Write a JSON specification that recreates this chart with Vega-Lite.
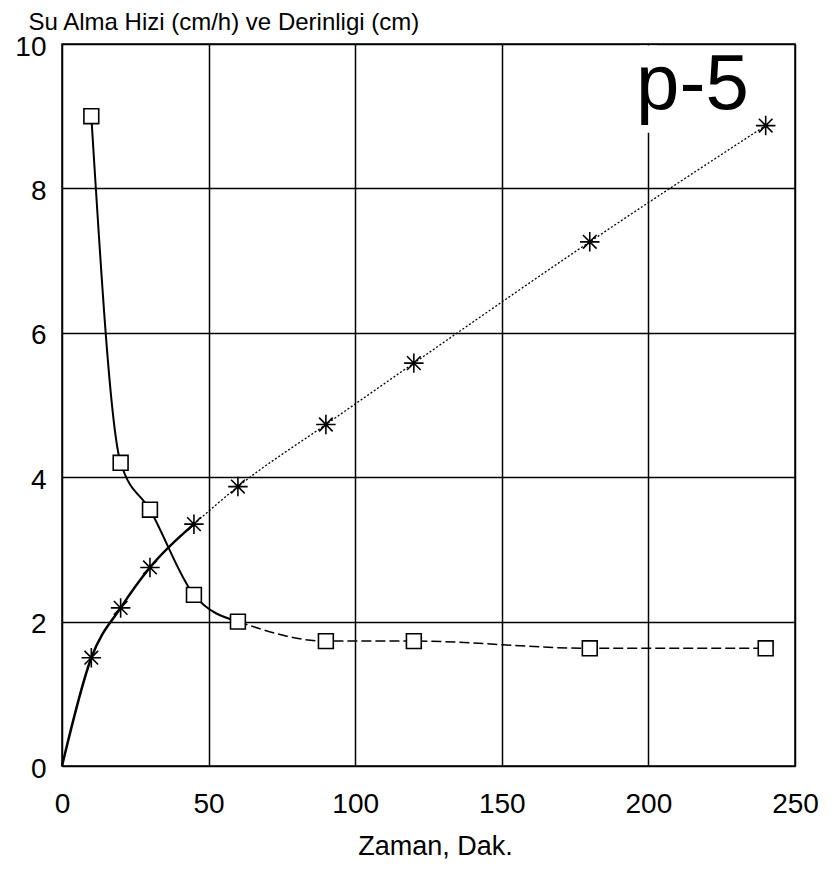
{
  "$schema": "https://vega.github.io/schema/vega-lite/v6.json",
  "width": 733,
  "height": 722,
  "autosize": "none",
  "padding": {"left": 62, "top": 44, "right": 40, "bottom": 104},
  "background": "white",
  "config": {
    "view": {"stroke": "black", "strokeWidth": 1.5},
    "axis": {
      "grid": true,
      "gridColor": "black",
      "gridOpacity": 1,
      "gridWidth": 1.5,
      "domain": false,
      "ticks": false,
      "labelFlush": false,
      "labelFont": "Liberation Sans",
      "labelFontSize": 28,
      "labelColor": "black",
      "titleColor": "black",
      "titleFontWeight": "normal",
      "format": "d"
    }
  },
  "datasets": {
    "depth": [
      {"t": 0, "d": 0},
      {"t": 10, "d": 1.5},
      {"t": 20, "d": 2.19},
      {"t": 30, "d": 2.75},
      {"t": 45, "d": 3.35},
      {"t": 60, "d": 3.87},
      {"t": 90, "d": 4.73},
      {"t": 120, "d": 5.58},
      {"t": 180, "d": 7.26},
      {"t": 240, "d": 8.87}
    ],
    "rate": [
      {"t": 10, "r": 9.0},
      {"t": 20, "r": 4.2},
      {"t": 30, "r": 3.55},
      {"t": 45, "r": 2.37},
      {"t": 60, "r": 2.0},
      {"t": 90, "r": 1.73},
      {"t": 120, "r": 1.73},
      {"t": 180, "r": 1.63},
      {"t": 240, "r": 1.63}
    ]
  },
  "layer": [
    {
      "data": {"name": "depth"},
      "mark": {"type": "line", "interpolate": "monotone", "color": "black", "strokeWidth": 2.5},
      "transform": [{"filter": "datum.t <= 45"}],
      "encoding": {
        "x": {
          "field": "t", "type": "quantitative",
          "scale": {"domain": [0, 250], "nice": false},
          "axis": {
            "values": [0, 50, 100, 150, 200, 250],
            "labelPadding": 24,
            "title": "Zaman, Dak.",
            "titleFont": "Liberation Sans",
            "titleFontSize": 27,
            "titleBaseline": "alphabetic",
            "titleY": 88,
            "titleX": 373
          }
        },
        "y": {
          "field": "d", "type": "quantitative",
          "scale": {"domain": [0, 10], "nice": false},
          "axis": {
            "values": [0, 2, 4, 6, 8, 10],
            "labelPadding": 16,
            "labelBaseline": "middle",
            "labelOffset": 3,
            "title": "Su Alma Hizi (cm/h) ve Derinligi (cm)",
            "titleFont": "Liberation Sans",
            "titleFontSize": 24,
            "titleAngle": 0,
            "titleAlign": "left",
            "titleBaseline": "alphabetic",
            "titleX": -34,
            "titleY": -15
          }
        }
      }
    },
    {
      "data": {"values": [{"k": 1}]},
      "mark": {"type": "rect", "color": "white"},
      "encoding": {
        "x": {"datum": 197},
        "x2": {"datum": 203},
        "y": {"datum": 8.77},
        "y2": {"datum": 9.98}
      }
    },
    {
      "data": {"name": "depth"},
      "mark": {"type": "line", "interpolate": "monotone", "color": "black", "strokeWidth": 1.3, "strokeDash": [2, 2]},
      "transform": [{"filter": "datum.t >= 45"}],
      "encoding": {
        "x": {"field": "t", "type": "quantitative"},
        "y": {"field": "d", "type": "quantitative"}
      }
    },
    {
      "data": {"name": "rate"},
      "mark": {"type": "line", "interpolate": "monotone", "color": "black", "strokeWidth": 2},
      "transform": [{"filter": "datum.t <= 60"}],
      "encoding": {
        "x": {"field": "t", "type": "quantitative"},
        "y": {"field": "r", "type": "quantitative"}
      }
    },
    {
      "data": {"name": "rate"},
      "mark": {"type": "line", "interpolate": "monotone", "color": "black", "strokeWidth": 1.5, "strokeDash": [10, 4]},
      "transform": [{"filter": "datum.t >= 60"}],
      "encoding": {
        "x": {"field": "t", "type": "quantitative"},
        "y": {"field": "r", "type": "quantitative"}
      }
    },
    {
      "data": {"name": "depth"},
      "mark": {
        "type": "point",
        "shape": "M-1,0L1,0M0,-1L0,1M-0.7,-0.7L0.7,0.7M-0.7,0.7L0.7,-0.7",
        "filled": false,
        "color": "black",
        "strokeWidth": 1.6,
        "size": 380,
        "opacity": 1
      },
      "transform": [{"filter": "datum.t > 0"}],
      "encoding": {
        "x": {"field": "t", "type": "quantitative"},
        "y": {"field": "d", "type": "quantitative"}
      }
    },
    {
      "data": {"name": "rate"},
      "mark": {
        "type": "point",
        "shape": "square",
        "filled": true,
        "fill": "white",
        "stroke": "black",
        "strokeWidth": 1.6,
        "size": 220,
        "opacity": 1
      },
      "encoding": {
        "x": {"field": "t", "type": "quantitative"},
        "y": {"field": "r", "type": "quantitative"}
      }
    },
    {
      "data": {"values": [{"label": "p-5"}]},
      "mark": {
        "type": "text",
        "font": "Liberation Sans",
        "fontSize": 78,
        "align": "center",
        "baseline": "alphabetic",
        "color": "black"
      },
      "encoding": {
        "x": {"datum": 215},
        "y": {"datum": 9.1},
        "text": {"field": "label"}
      }
    }
  ]
}
